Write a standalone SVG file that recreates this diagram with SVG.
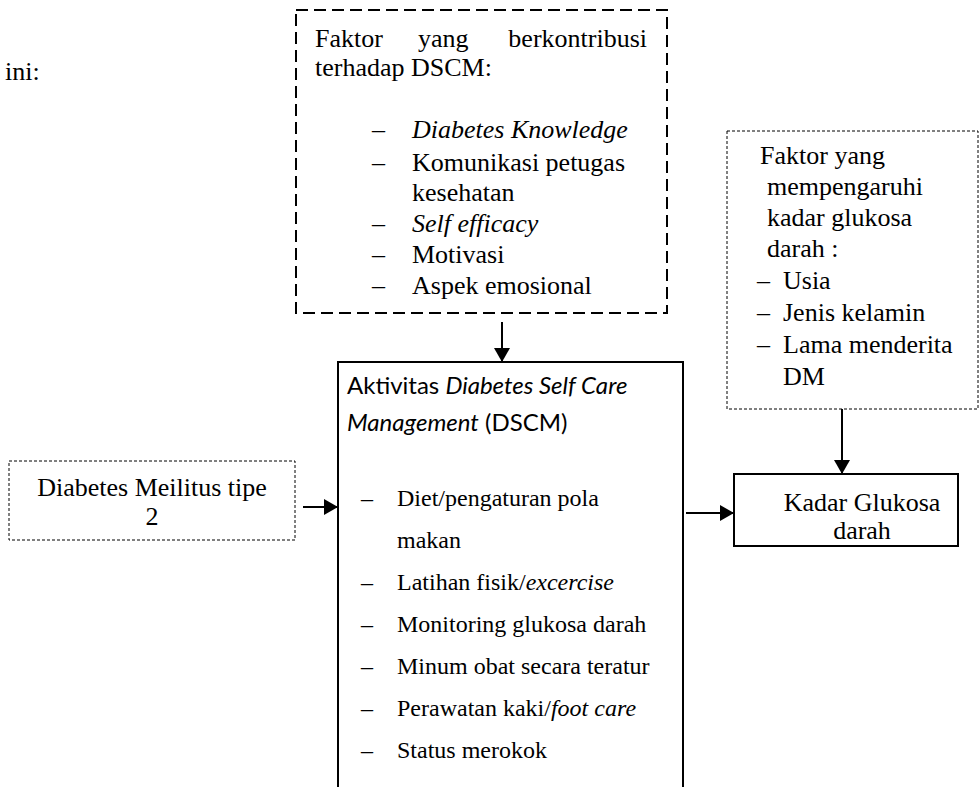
<svg xmlns="http://www.w3.org/2000/svg" width="980" height="787" viewBox="0 0 980 787">
<defs>
<marker id="ah" markerWidth="16" markerHeight="16" refX="13" refY="8" orient="auto" markerUnits="userSpaceOnUse">
<path d="M0,0 L14,8 L0,16 Z" fill="#000"/>
</marker>
<style>
.t{font-family:"Liberation Serif","Times New Roman",serif;font-size:26px;fill:#000}
.l{font-family:"Liberation Serif","Times New Roman",serif;font-size:24px;fill:#000}
.s{font-family:Lato,"Liberation Sans",sans-serif;font-size:24px;fill:#000}
.i{font-style:italic}
.bigdash{fill:none;stroke:#000;stroke-width:2;stroke-dasharray:12 6}
.thindash{fill:none;stroke:#000;stroke-width:1;stroke-dasharray:3 2}
.solid{fill:none;stroke:#000;stroke-width:2}
.c{stroke:#000;stroke-width:2;fill:none;marker-end:url(#ah)}
</style>
</defs>
<rect width="980" height="787" fill="#fff"/>
<text class="t" x="5" y="80">ini:</text>

<g id="faktor-dscm">
<rect class="bigdash" x="296" y="10" width="371" height="303"/>
<text class="t" x="315" y="47">Faktor</text>
<text class="t" x="418" y="47">yang</text>
<text class="t" x="647" y="47" text-anchor="end">berkontribusi</text>
<text class="t" x="315" y="76">terhadap DSCM:</text>
<text class="t" x="372" y="138">–</text><text class="t i" x="412" y="138">Diabetes Knowledge</text>
<text class="t" x="372" y="171">–</text><text class="t" x="412" y="171">Komunikasi petugas</text>
<text class="t" x="412" y="201">kesehatan</text>
<text class="t" x="372" y="232">–</text><text class="t i" x="412" y="232">Self efficacy</text>
<text class="t" x="372" y="263">–</text><text class="t" x="412" y="263">Motivasi</text>
<text class="t" x="372" y="294">–</text><text class="t" x="412" y="294">Aspek emosional</text>
</g>

<g id="faktor-glukosa">
<rect class="thindash" x="727" y="131" width="251" height="278"/>
<text class="t" x="760" y="164">Faktor yang</text>
<text class="t" x="767" y="195">mempengaruhi</text>
<text class="t" x="767" y="226">kadar glukosa</text>
<text class="t" x="767" y="257">darah :</text>
<text class="t" x="757" y="289">–</text><text class="t" x="783" y="289">Usia</text>
<text class="t" x="757" y="321">–</text><text class="t" x="783" y="321">Jenis kelamin</text>
<text class="t" x="757" y="353">–</text><text class="t" x="783" y="353">Lama menderita</text>
<text class="t" x="783" y="385">DM</text>
</g>

<g id="dm-tipe2">
<rect class="thindash" x="9" y="461" width="286" height="79"/>
<text class="t" x="152" y="496" text-anchor="middle">Diabetes Meilitus tipe</text>
<text class="t" x="152" y="525" text-anchor="middle">2</text>
</g>

<g id="dscm">
<path class="solid" d="M338,790 V362 H683 V790"/>
<text class="s" x="347" y="394">Aktivitas <tspan class="i">Diabetes Self Care</tspan></text>
<text class="s" x="347" y="431"><tspan class="i">Management</tspan> (DSCM)</text>
<text class="l" x="361" y="506">–</text><text class="l" x="397" y="506">Diet/pengaturan pola</text>
<text class="l" x="397" y="548">makan</text>
<text class="l" x="361" y="590">–</text><text class="l" x="397" y="590">Latihan fisik/<tspan class="i">excercise</tspan></text>
<text class="l" x="361" y="632">–</text><text class="l" x="397" y="632">Monitoring glukosa darah</text>
<text class="l" x="361" y="674">–</text><text class="l" x="397" y="674">Minum obat secara teratur</text>
<text class="l" x="361" y="716">–</text><text class="l" x="397" y="716">Perawatan kaki/<tspan class="i">foot care</tspan></text>
<text class="l" x="361" y="758">–</text><text class="l" x="397" y="758">Status merokok</text>
</g>

<g id="kadar-glukosa">
<rect class="solid" x="734" y="474" width="224" height="72"/>
<text class="t" x="862" y="511" text-anchor="middle">Kadar Glukosa</text>
<text class="t" x="862" y="539" text-anchor="middle">darah</text>
</g>

<g id="connectors">
<line class="c" x1="502" y1="322" x2="502" y2="361"/>
<line class="c" x1="303" y1="507" x2="337" y2="507"/>
<line class="c" x1="686" y1="513" x2="733" y2="513"/>
<line class="c" x1="842" y1="409" x2="842" y2="473"/>
</g>
</svg>
